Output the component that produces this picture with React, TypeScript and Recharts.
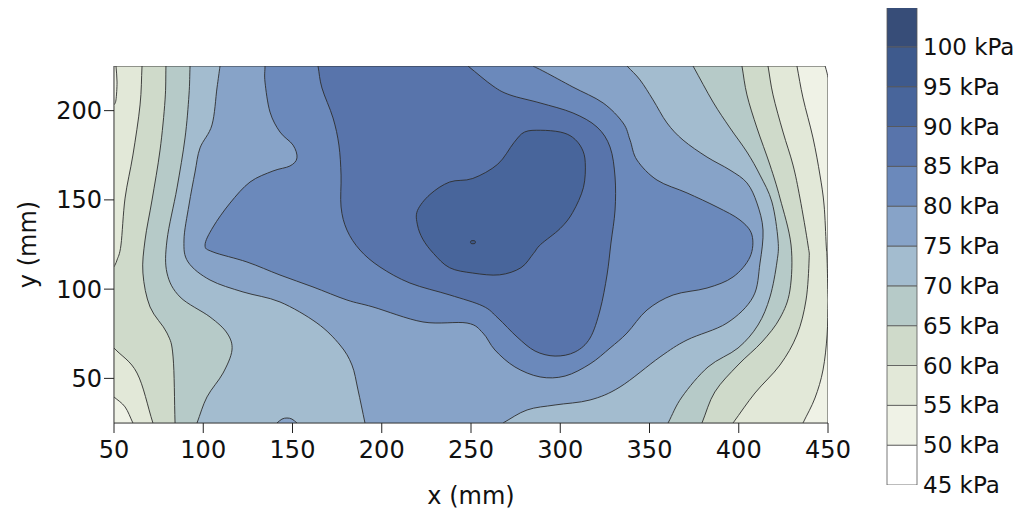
import React from 'react';
import { ScatterChart, Scatter, XAxis, YAxis, BarChart, Bar } from 'recharts';

type Pt = { x: number; y: number };

// plot extent in mm
const X_MIN = 50;
const X_MAX = 450;
const Y_MIN = 25;
const Y_MAX = 225;

const xTicks = [50, 100, 150, 200, 250, 300, 350, 400, 450];
const yTicks = [50, 100, 150, 200];

// colour scale: lower bound of each band (kPa) and its fill
const levels = [45, 50, 55, 60, 65, 70, 75, 80, 85, 90, 95, 100];
const levelTop = 105;
const levelColors = [
  '#ffffff', '#eff2e6', '#e2e8d8', '#cfdaca', '#b6cac8', '#a3bccf',
  '#87a3c8', '#6b89bb', '#5874ab', '#48659b', '#3e5a8d', '#374d78',
];

// outlines (x, y in mm) of the areas where pressure >= level
const above50 = [[50, 25], [50, 225], [448.4, 225], [449.5, 221], [450, 218.3], [450, 25]];

const above55 = [
  [51.1, 225], [51.7, 216], [51.1, 206], [50, 203], [50, 39.6], [56.2, 34], [60.6, 25],
  [436, 25], [442.7, 39], [447.2, 54.7], [449.5, 74.3], [450, 93.9], [449.5, 116.3],
  [449, 124.7], [447.8, 147.1], [445.5, 163.9], [441.6, 184.7], [436, 207.1], [432.6, 225],
];

const above60 = [
  [65.7, 225], [64.6, 203.2], [60.6, 175.1], [56.2, 151], [53.9, 124.7], [51.7, 116.3],
  [50, 112.4], [50, 67], [62.9, 53], [71.8, 25], [396.8, 25], [409.1, 41.8], [423.1, 57.5],
  [432.6, 74.3], [437.7, 93.9], [439.4, 116.3], [438.8, 124.7], [434.3, 151], [430.4, 169.5],
  [424.8, 188], [419.2, 208.8], [416.4, 225],
];

const above65 = [
  [79.1, 225], [78.6, 206], [75.8, 177.9], [71.3, 149.9], [67.4, 127.5], [66.2, 109],
  [70.2, 90], [79.7, 75.4], [83.1, 62], [84.2, 25], [379.4, 25], [386.6, 42.4], [399.6, 57.5],
  [413, 70.4], [423.1, 83.8], [428.7, 99.5], [429.3, 124.7], [423.1, 151], [417.5, 169.5],
  [410.2, 190.3], [404.6, 208.8], [401.8, 225],
];

const above70 = [
  [92.6, 225], [92, 208.8], [89.8, 184.7], [85.3, 156.7], [79.7, 127.5], [79.7, 109],
  [87, 95.6], [103.8, 84.4], [113.3, 75.4], [116.1, 65.9], [111.1, 53], [102.1, 39.6],
  [96.5, 25], [360.4, 25], [368.2, 39.6], [382.8, 56.4], [399.6, 67], [410.8, 79.9],
  [417.5, 95.6], [421.4, 115.2], [422, 127.5], [418.6, 148.8], [411.9, 163.9],
  [404.6, 176.8], [395.1, 190.3], [385.6, 204.8], [374.4, 225],
];

const above75 = [
  [109.4, 225], [107.7, 212.7], [104.9, 192], [98.2, 179.1], [95.4, 165.6], [92, 147.1],
  [89.2, 127.5], [91.5, 115.2], [103.8, 105.1], [122.3, 98.4], [143, 92.8], [163.7, 81],
  [176.6, 68.7], [183.3, 57.5], [186.7, 43.5], [190.6, 25], [267.9, 25], [281.4, 32.3],
  [297.1, 35.1], [316.7, 37.9], [333.5, 45.2], [355.9, 62], [371, 71.5], [393.4, 81],
  [408, 95.6], [411.9, 114.6], [413.6, 133.1], [410.2, 148.2], [404.6, 159.5],
  [395.1, 166.7], [382.2, 174], [368.8, 183.5], [359.8, 193.1], [352, 206],
  [344.7, 217.2], [337.4, 225],
];

// small bump on the lower edge
const above75Bump = [[141.3, 25], [144.1, 27.2], [146.9, 27.8], [149.7, 27.2], [152.5, 25]];

const above80 = [
  [134.6, 225], [134.6, 216], [137.4, 199.2], [143, 188], [150.3, 180.7], [152.5, 173.5],
  [148.6, 169], [139.1, 166.2], [126.2, 160], [115, 148.2], [105.5, 134.8], [101, 124.7],
  [105.5, 120.8], [124.5, 115.2], [143, 107.9], [161.5, 101.2], [180.5, 93.9], [195.1, 90],
  [223.1, 81.6], [247.8, 81], [256.7, 75.4], [263.4, 65.9], [274.6, 56.4], [288.7, 50.8],
  [302.7, 51.3], [316.7, 58.1], [327.9, 67], [337.4, 75.4], [348.6, 88.3], [363.2, 96.7],
  [382.2, 100.6], [396.8, 106.8], [406.3, 118], [407.4, 130.3], [400.7, 138.7],
  [387.8, 146], [371, 153.9], [354.2, 161.1], [343, 172.3], [339.1, 183.5], [335.2, 193.1],
  [324, 204.3], [307.1, 213.2], [291.5, 221.6], [284.7, 225],
];

const above85 = [
  [164.3, 225], [166.5, 212.7], [172.7, 195.9], [176, 180.7], [177.2, 163.9], [177.2, 146],
  [180.5, 133.1], [187.8, 121.9], [199, 112.4], [215.8, 103.4], [238.2, 96.7], [256.7, 90.5],
  [265.1, 83.8], [275.8, 73.2], [285.9, 65.3], [297.1, 62.5], [308.3, 64.8], [316.7, 72.6],
  [322.3, 88.3], [326.2, 107.9], [328.4, 125.8], [330.7, 144.3], [330.7, 162.8],
  [327.9, 179.6], [320.6, 190.8], [307.1, 198.7], [288.7, 204.3], [271.8, 208.8],
  [262.3, 213.8], [248.3, 225],
];

const above90 = [
  [289, 189], [300, 188], [307, 185], [312, 179], [314, 171], [313, 157], [307, 143],
  [300, 134], [289, 125], [285, 120], [278, 112], [266, 108], [251, 109], [238, 112],
  [229, 120], [223, 128], [220, 136], [220, 144], [227, 153], [238, 160], [251, 162],
  [265, 170], [274, 182], [280, 188],
];

const above95 = [[250, 127], [252.2, 127], [252.2, 125.6], [250, 125.6]];

const contours = [
  { level: 50, rings: [above50] },
  { level: 55, rings: [above55] },
  { level: 60, rings: [above60] },
  { level: 65, rings: [above65] },
  { level: 70, rings: [above70] },
  { level: 75, rings: [above75, above75Bump] },
  { level: 80, rings: [above80] },
  { level: 85, rings: [above85] },
  { level: 90, rings: [above90] },
  { level: 95, rings: [above95] },
];

const font = 'DejaVu Sans, Arial, sans-serif';
const axisTick = { fontSize: 24, fill: '#111', fontFamily: font };

const onBorder = (p: Pt) => p.x <= X_MIN || p.x >= X_MAX || p.y <= Y_MIN || p.y >= Y_MAX;

// closed Catmull-Rom outline; runs along the plot border stay straight
function closedPath(pts: Pt[], border: boolean[]) {
  const n = pts.length;
  const k = 1 / 6;
  let d = `M${pts[0].x},${pts[0].y}`;
  for (let i = 0; i < n; i++) {
    const j = (i + 1) % n;
    const a = pts[i];
    const b = pts[j];
    if (border[i] && border[j]) {
      d += `L${b.x},${b.y}`;
      continue;
    }
    const prev = pts[(i - 1 + n) % n];
    const next = pts[(j + 1) % n];
    const c1 = border[i]
      ? { x: a.x + (b.x - a.x) / 3, y: a.y + (b.y - a.y) / 3 }
      : { x: a.x + (b.x - prev.x) * k, y: a.y + (b.y - prev.y) * k };
    const c2 = border[j]
      ? { x: b.x - (b.x - a.x) / 3, y: b.y - (b.y - a.y) / 3 }
      : { x: b.x - (next.x - a.x) * k, y: b.y - (next.y - a.y) * k };
    d += `C${c1.x},${c1.y} ${c2.x},${c2.y} ${b.x},${b.y}`;
  }
  return d + 'Z';
}

const ringFill = (ring: Pt[], fill: string) => {
  const border = ring.map(onBorder);
  return (props: any) => (
    <path
      d={closedPath(props.points, border)}
      fill={fill}
      stroke="#2e2e2e"
      strokeWidth={0.9}
      strokeLinejoin="round"
    />
  );
};

const colorOf = (level: number) => levelColors[levels.indexOf(level)];

function ContourPlot() {
  return (
    <ScatterChart width={880} height={501} margin={{ top: 58, right: 60, bottom: 6, left: 10 }}>
      <XAxis
        xAxisId="bottom"
        type="number"
        dataKey="x"
        domain={[X_MIN, X_MAX]}
        allowDataOverflow
        ticks={xTicks}
        interval={0}
        height={80}
        tickSize={10}
        tickMargin={8}
        tick={axisTick}
        axisLine={{ stroke: '#222' }}
        tickLine={{ stroke: '#222' }}
        label={{ value: 'x (mm)', position: 'insideBottom', offset: -1, fontSize: 24, fill: '#111', fontFamily: font }}
      />
      <XAxis
        xAxisId="top"
        orientation="top"
        type="number"
        dataKey="x"
        domain={[X_MIN, X_MAX]}
        allowDataOverflow
        ticks={xTicks}
        interval={0}
        height={0}
        tickSize={8}
        tickFormatter={() => ''}
        axisLine={{ stroke: '#222' }}
        tickLine={{ stroke: '#222' }}
      />
      <YAxis
        yAxisId="left"
        type="number"
        dataKey="y"
        domain={[Y_MIN, Y_MAX]}
        allowDataOverflow
        ticks={yTicks}
        interval={0}
        width={96}
        tickSize={10}
        tickMargin={2}
        tick={axisTick}
        axisLine={{ stroke: '#222' }}
        tickLine={{ stroke: '#222' }}
        label={{
          value: 'y (mm)',
          angle: -90,
          position: 'insideLeft',
          offset: 9,
          fontSize: 24,
          fill: '#111',
          fontFamily: font,
          style: { textAnchor: 'middle' },
        }}
      />
      <YAxis
        yAxisId="right"
        orientation="right"
        type="number"
        dataKey="y"
        domain={[Y_MIN, Y_MAX]}
        allowDataOverflow
        ticks={yTicks}
        interval={0}
        width={0}
        tickSize={8}
        tickFormatter={() => ''}
        axisLine={{ stroke: '#222' }}
        tickLine={{ stroke: '#222' }}
      />
      {contours.map(({ level, rings }) =>
        rings.map((ring, i) => {
          const pts = ring.map(([x, y]) => ({ x, y }));
          const onOuterAxes = level === levels[1];
          return (
            <Scatter
              key={`${level}-${i}`}
              data={pts}
              xAxisId={onOuterAxes ? 'top' : 'bottom'}
              yAxisId={onOuterAxes ? 'right' : 'left'}
              line={ringFill(pts, colorOf(level))}
              shape={() => <g />}
              isAnimationActive={false}
            />
          );
        })
      )}
    </ScatterChart>
  );
}

// one stacked column; the transparent base lifts the first band to 45 kPa
const scaleRow = levels.reduce<Record<string, string | number>>(
  (row, l, i) => ({ ...row, [`b${l}`]: (levels[i + 1] ?? levelTop) - l }),
  { name: 'kPa', base: levels[0] }
);

function ColorScale() {
  return (
    <BarChart
      width={156}
      height={517}
      data={[scaleRow]}
      margin={{ top: 7, right: 0, bottom: 32, left: 17 }}
      barCategoryGap={0}
      barGap={0}
    >
      <XAxis dataKey="name" hide />
      <YAxis
        orientation="right"
        type="number"
        domain={[levels[0], levelTop]}
        allowDataOverflow
        ticks={levels}
        interval={0}
        width={109}
        axisLine={false}
        tickLine={false}
        tickSize={0}
        tickMargin={6}
        tickFormatter={(v) => `${v} kPa`}
        tick={{ fontSize: 23, fill: '#111', fontFamily: font }}
      />
      <Bar dataKey="base" stackId="s" fill="transparent" isAnimationActive={false} />
      {levels.map((l, i) => (
        <Bar
          key={l}
          dataKey={`b${l}`}
          stackId="s"
          fill={levelColors[i]}
          stroke="#555"
          strokeWidth={0.8}
          isAnimationActive={false}
        />
      ))}
    </BarChart>
  );
}

export default function App() {
  return (
    <div style={{ position: 'relative', width: 1010, height: 501, background: '#fff' }}>
      <ContourPlot />
      <div style={{ position: 'absolute', left: 862, top: -8 }}>
        <ColorScale />
      </div>
    </div>
  );
}
